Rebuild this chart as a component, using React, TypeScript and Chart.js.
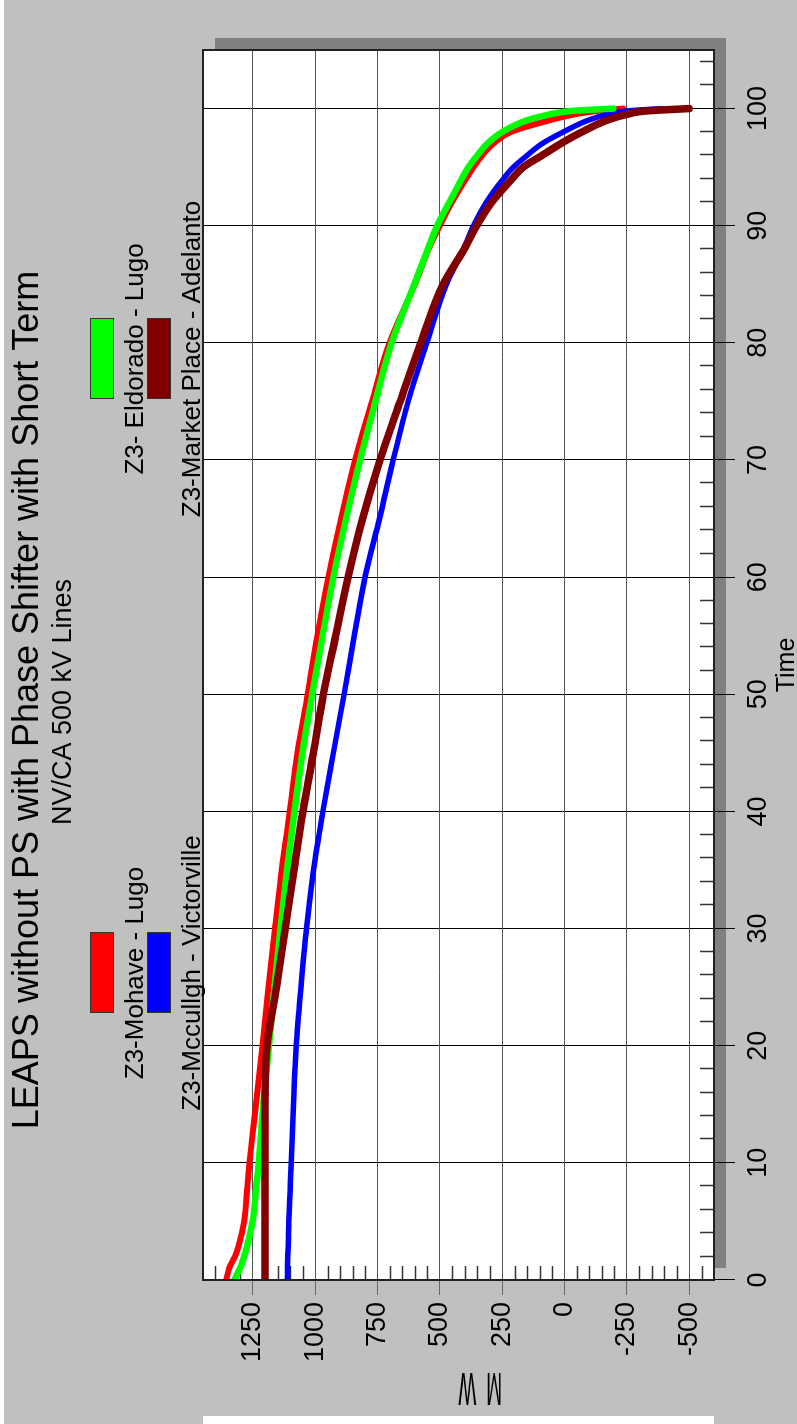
import React, { useEffect, useRef } from 'react';
import { Chart, registerables } from 'chart.js';

Chart.register(...registerables);

// ---- data (percent of time vs MW, duration curves) ----
const TIME = [0, 1, 2, 3, 5, 8, 10, 15, 20, 25, 30, 35, 40, 45, 50, 55, 60, 65, 70, 75, 80, 85, 88, 90, 92, 94, 95, 96, 97, 98, 99, 99.5, 99.8, 100];
const MOHAVE_LUGO = [1357, 1345, 1322, 1306, 1285, 1272, 1264, 1237, 1211, 1187, 1161, 1134, 1102, 1071, 1030, 991, 947, 896, 840, 772, 702, 600, 545, 500, 452, 395, 365, 330, 285, 215, 60, -40, -130, -235];
const MCCULLGH_VICTORVILLE = [1112, 1111, 1110, 1108, 1106, 1100, 1096, 1087, 1076, 1057, 1035, 1007, 969, 927, 884, 843, 800, 742, 687, 627, 552, 473, 405, 365, 313, 245, 205, 150, 90, 5, -95, -170, -250, -391];
const ELDORADO_LUGO = [1324, 1302, 1285, 1272, 1251, 1236, 1226, 1208, 1185, 1163, 1139, 1113, 1083, 1051, 1012, 970, 927, 876, 820, 758, 693, 602, 548, 510, 462, 412, 385, 350, 310, 250, 150, 60, -30, -196];
const MARKET_PLACE_ADELANTO = [1201, 1201, 1201, 1201, 1201, 1201, 1201, 1201, 1193, 1155, 1120, 1085, 1049, 1007, 967, 918, 868, 810, 740, 659, 576, 487, 402, 352, 292, 210, 165, 90, 15, -70, -170, -250, -330, -500];

const SERIES_LABELS = ['Z3-Mohave - Lugo', 'Z3-Mccullgh - Victorville', 'Z3- Eldorado - Lugo', 'Z3-Market Place - Adelanto'];
const SERIES_COLORS = ['#ff0000', '#0000ff', '#00ff00', '#800000'];
const SERIES_VALUES = [MOHAVE_LUGO, MCCULLGH_VICTORVILLE, ELDORADO_LUGO, MARKET_PLACE_ADELANTO];
const SERIES_WIDTHS = [6, 5.5, 6.5, 7.5];
const SERIES_ORDER = [4, 3, 2, 1];

const X_TICKS = [0, 10, 20, 30, 40, 50, 60, 70, 80, 90, 100];
const Y_TICKS = [-500, -250, 0, 250, 500, 750, 1000, 1250];

const TITLE = 'LEAPS without PS with Phase Shifter with Short Term';
const SUBTITLE = 'NV/CA 500 kV Lines';
const X_TITLE = 'Time';
const Y_TITLE = 'MW';

const FONT = "'Liberation Sans', Arial, sans-serif";
const W = 1424;
const H = 797;

const backgroundPlugin = {
  id: 'bgPlugin',
  beforeDraw(chart: any) {
    const { ctx, chartArea: a } = chart;
    ctx.save();
    ctx.fillStyle = '#ffffff';
    ctx.fillRect(0, 0, W, H);
    ctx.fillStyle = '#c0c0c0';
    ctx.fillRect(0, 4, W, H - 4);
    ctx.fillStyle = '#ffffff';
    ctx.fillRect(0, a.top, 8, a.bottom - a.top);
    // shadow
    ctx.fillStyle = '#808080';
    ctx.fillRect(a.left + 12, a.top + 12, a.right - a.left, a.bottom - a.top);
    // plot
    ctx.fillStyle = '#ffffff';
    ctx.fillRect(a.left, a.top, a.right - a.left, a.bottom - a.top);
    ctx.restore();
  },
};

const textPlugin = {
  id: 'headerText',
  afterDraw(chart: any) {
    const { ctx } = chart;
    ctx.save();
    ctx.fillStyle = '#000';
    ctx.textAlign = 'center';
    ctx.textBaseline = 'alphabetic';
    ctx.font = `36px ${FONT}`;
    ctx.fillText(TITLE, 724, 37.5);
    ctx.font = `27px ${FONT}`;
    ctx.fillText(SUBTITLE, 722, 70.5);
    ctx.restore();
  },
};

const minorTicksPlugin = {
  id: 'minorTicks',
  beforeDatasetsDraw(chart: any) {
    const { ctx, chartArea: a, scales } = chart;
    const xs = scales.x;
    const ys = scales.y;
    ctx.save();
    ctx.strokeStyle = '#333333';
    ctx.lineWidth = 1.5;
    ctx.beginPath();
    for (let v = -550; v <= 1400; v += 50) {
      if (v % 250 === 0) continue;
      const y = Math.round(ys.getPixelForValue(v)) + 0.5;
      ctx.moveTo(a.left, y);
      ctx.lineTo(a.left + 14, y);
    }
    for (let t = 2; t <= 104; t += 2) {
      if (t % 10 === 0) continue;
      const x = Math.round(xs.getPixelForValue(t)) + 0.5;
      ctx.moveTo(x, a.bottom);
      ctx.lineTo(x, a.bottom - 14);
    }
    ctx.stroke();
    ctx.restore();
  },
  afterDraw(chart: any) {
    const { ctx, chartArea: a } = chart;
    ctx.save();
    ctx.strokeStyle = '#222222';
    ctx.lineWidth = 2;
    ctx.strokeRect(a.left, a.top, a.right - a.left, a.bottom - a.top);
    // y axis title (condensed glyphs)
    ctx.translate(38, 480);
    ctx.rotate(-Math.PI / 2);
    ctx.scale(0.4, 1);
    ctx.font = `47px ${FONT}`;
    ctx.fillStyle = '#000';
    ctx.textBaseline = 'middle';
    ctx.textAlign = 'center';
    try { (ctx as any).letterSpacing = '25px'; } catch (e) {}
    ctx.fillText(Y_TITLE, 12, 0);
    ctx.restore();
  },
};

const boxLegendPlugin = {
  id: 'boxLegend',
  afterDraw(chart: any) {
    const { ctx } = chart;
    const slots = [
      { cx: 451, top: 90, base: 143 },
      { cx: 451, top: 147, base: 200 },
      { cx: 1065, top: 90, base: 143 },
      { cx: 1065, top: 147, base: 200 },
    ];
    ctx.save();
    chart.data.datasets.forEach((ds: any, i: number) => {
      const s = slots[i];
      ctx.fillStyle = ds.borderColor;
      ctx.fillRect(s.cx - 40, s.top, 80, 23);
      ctx.strokeStyle = '#333333';
      ctx.lineWidth = 1;
      ctx.strokeRect(s.cx - 40 + 0.5, s.top + 0.5, 80, 23);
      ctx.fillStyle = '#000';
      ctx.font = `26px ${FONT}`;
      ctx.textAlign = 'center';
      ctx.textBaseline = 'alphabetic';
      ctx.fillText(ds.label, s.cx, s.base);
    });
    ctx.restore();
  },
};

export default function App() {
  const ref = useRef<HTMLCanvasElement>(null);

  useEffect(() => {
    if (!ref.current) return;
    Chart.defaults.font.family = FONT;
    const datasets = SERIES_LABELS.map((label, i) => ({
      label,
      data: TIME.map((t, j) => ({ x: t, y: SERIES_VALUES[i][j] })),
      borderColor: SERIES_COLORS[i],
      backgroundColor: SERIES_COLORS[i],
      borderWidth: SERIES_WIDTHS[i],
      pointRadius: 0,
      cubicInterpolationMode: 'monotone' as const,
      fill: false,
      order: SERIES_ORDER[i],
      borderCapStyle: 'round' as const,
      borderJoinStyle: 'round' as const,
    }));

    const chart = new Chart(ref.current, {
      type: 'line',
      data: { datasets },
      options: {
        animation: false,
        responsive: false,
        devicePixelRatio: 1,
        layout: { padding: { left: 0, right: 50, top: 203, bottom: 0 } },
        plugins: {
          legend: { display: false },
          tooltip: { enabled: false },
          title: { display: false },
          subtitle: { display: false },
        },
        scales: {
          x: {
            type: 'linear',
            position: 'bottom',
            min: 0,
            max: 105,
            border: { display: false },
            grid: { color: '#000000', lineWidth: 1, tickLength: 21, tickColor: '#000000', tickWidth: 1 },
            afterBuildTicks: (s: any) => { s.ticks = X_TICKS.map((v) => ({ value: v })); },
            ticks: {
              autoSkip: false,
              maxRotation: 0,
              padding: 7,
              color: '#000',
              font: { size: 27, family: FONT },
              callback: (v: any) => String(v),
            },
            title: {
              display: true,
              text: X_TITLE,
              color: '#000',
              font: { size: 25, family: FONT, lineHeight: 0.8 },
              padding: 0,
            },
            afterFit: (s: any) => { s.height = 83; },
          },
          y: {
            type: 'linear',
            position: 'left',
            min: -600,
            max: 1450,
            border: { display: false },
            grid: { color: '#555555', lineWidth: 1, tickLength: 15, tickColor: '#666666', tickWidth: 1 },
            afterBuildTicks: (s: any) => { s.ticks = Y_TICKS.map((v) => ({ value: v })); },
            ticks: {
              autoSkip: false,
              padding: 7,
              color: '#000',
              font: { size: 27, family: FONT },
              callback: (v: any) => String(v),
            },
            afterFit: (s: any) => { s.width = 144; },
          },
        },
      },
      plugins: [backgroundPlugin, minorTicksPlugin, boxLegendPlugin, textPlugin],
    } as any);

    return () => chart.destroy();
  }, []);

  return (
    <div style={{ position: 'fixed', left: 0, top: 0, width: 797, height: 1424, overflow: 'hidden', background: '#fff' }}>
      <div
        style={{
          position: 'absolute',
          left: 0,
          top: 0,
          width: W,
          height: H,
          transformOrigin: '0 0',
          transform: `translate(0px, ${W}px) rotate(-90deg)`,
        }}
      >
        <canvas ref={ref} width={W} height={H} style={{ display: 'block', width: W, height: H }} />
      </div>
    </div>
  );
}
